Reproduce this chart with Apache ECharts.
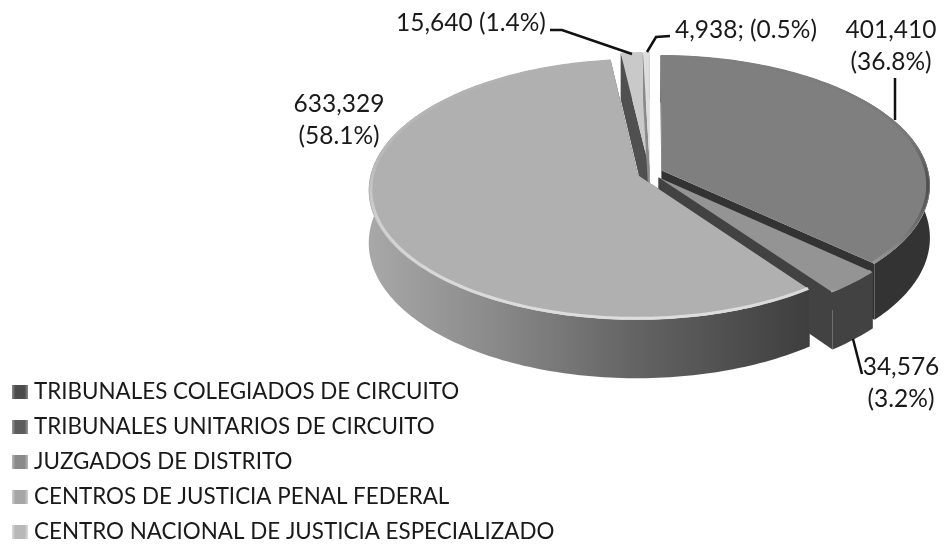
<!DOCTYPE html>
<html>
<head>
<meta charset="utf-8">
<style>
html, body { margin: 0; padding: 0; background: #fff; }
#chart { width: 946px; height: 544px; }
</style>
<script src="https://cdn.jsdelivr.net/npm/echarts@6/dist/echarts.min.js"></script>
</head>
<body>
<div id="chart"></div>
<script>
// datos
const categories = [
    'TRIBUNALES COLEGIADOS DE CIRCUITO',
    'TRIBUNALES UNITARIOS DE CIRCUITO',
    'JUZGADOS DE DISTRITO',
    'CENTROS DE JUSTICIA PENAL FEDERAL',
    'CENTRO NACIONAL DE JUSTICIA ESPECIALIZADO'
];
const values = [401410, 34576, 633329, 15640, 4938];
const valueLabels = ['401,410\n(36.8%)', '34,576\n(3.2%)', '633,329\n(58.1%)', '15,640 (1.4%)', '4,938; (0.5%)'];

// colores
const topColors = ['#7f7f7f', '#949494', '#b0b0b0', '#c9c9c9', '#dddddd'];
const wallColors = ['#333333', '#424242', '#4a4a4a', '#505050', '#8a8a8a'];
const edgeStops = [
    [[0, '#7f7f7f'], [0.4, '#787878'], [0.62, '#4c4c4c'], [0.8, '#6c6c6c'], [1, '#9a9a9a']],
    [[0, '#949494'], [0.8, '#949494'], [1, '#b4b4b4']],
    [[0, '#b0b0b0'], [0.4, '#bababa'], [0.6, '#d0d0d0'], [1, '#dedede']],
    [[0, '#c9c9c9'], [1, '#c9c9c9']],
    [[0, '#dddddd'], [1, '#dddddd']]
];
const legendStops = [
    [[0, '#8a8a8a'], [0.22, '#4c4c4c'], [0.78, '#4c4c4c'], [1, '#8a8a8a']],
    [[0, '#9a9a9a'], [0.22, '#5c5c5c'], [0.78, '#5c5c5c'], [1, '#9a9a9a']],
    [[0, '#b8b8b8'], [0.22, '#8a8a8a'], [0.78, '#8a8a8a'], [1, '#b8b8b8']],
    [[0, '#d0d0d0'], [0.22, '#a6a6a6'], [0.78, '#a6a6a6'], [1, '#d0d0d0']],
    [[0, '#dcdcdc'], [0.22, '#b8b8b8'], [0.78, '#b8b8b8'], [1, '#dcdcdc']]
];
const drawOrder = [2, 3, 4, 0, 1]; // z por rebanada, de atras hacia adelante

// proyeccion del pastel
const cx = 650, cy = 173, R = 267, A = 128, persp = 0.11, depth = 52, explode = 0.048;

const total = values.reduce((a, b) => a + b, 0);
let acc = 0;
const slices = values.map(v => {
    let s = { start: acc / total * Math.PI * 2 };
    acc += v;
    s.end = acc / total * Math.PI * 2;
    s.mid = (s.start + s.end) / 2;
    return s;
});

function project(u, v, h) {
    let w = 1 / (1 - persp * v);
    return [cx + R * u * w, cy + A * v * w + depth * h * w];
}

function arcPoints(s, r, h, a0, a1) {
    let ox = Math.sin(s.mid) * explode, oy = -Math.cos(s.mid) * explode;
    let n = Math.max(2, Math.ceil((a1 - a0) / 0.02));
    let pts = [];
    for (let i = 0; i <= n; i++) {
        let a = a0 + (a1 - a0) * i / n;
        pts.push(project(ox + Math.sin(a) * r, oy - Math.cos(a) * r, h));
    }
    return pts;
}

function apex(s, h) {
    return project(Math.sin(s.mid) * explode, -Math.cos(s.mid) * explode, h);
}

function poly(points, fill) {
    return { type: 'polygon', shape: { points: points }, style: { fill: fill, stroke: null } };
}

function grad(stops, horizontal) {
    return {
        type: 'linear', x: 0, y: 0, x2: horizontal ? 1 : 0, y2: horizontal ? 0 : 1,
        colorStops: stops.map(s => ({ offset: s[0], color: s[1] }))
    };
}

function makeRender(i) {
    return function() {
        let s = slices[i];
        let topArc = arcPoints(s, 1, 0, s.start, s.end);
        let botArc = arcPoints(s, 1, 1, s.start, s.end);
        let a0 = apex(s, 0), a1 = apex(s, 1);
        let wall = wallColors[i];
        let outerFill = wall;
        if (i === 2) {
            outerFill = grad([[0, '#a8a8a8'], [0.3, '#888888'], [0.6, '#646464'], [1, '#3e3e3e']], true);
        }
        let kids = [];
        // paredes radiales
        kids.push(poly([a0, topArc[0], botArc[0], a1], wall));
        kids.push(poly([a0, topArc[topArc.length - 1], botArc[botArc.length - 1], a1], wall));
        // pared exterior
        kids.push(poly(topArc.concat(botArc.slice().reverse()), outerFill));
        // cara superior
        kids.push(poly([a0].concat(topArc), topColors[i]));
        // bisel
        kids.push({
            type: 'polyline',
            shape: { points: arcPoints(s, 0.992, 0, s.start, s.end) },
            style: { fill: null, lineWidth: 3, stroke: grad(edgeStops[i], false) }
        });
        return { type: 'group', children: kids };
    };
}

const labelSpots = [
    { x: 891, y: 46 },
    { x: 901, y: 383 },
    { x: 339, y: 120 },
    { x: 471, y: 23 },
    { x: 746, y: 30 }
];
const leaderLines = [
    [[895, 78], [895, 120]],
    [[853, 339], [862, 374]],
    null,
    [[550, 30], [562, 30], [632, 54]],
    [[670, 36], [656, 37], [647, 52]]
];

let graphics = [];
valueLabels.forEach((t, i) => {
    graphics.push({
        type: 'text', x: labelSpots[i].x, y: labelSpots[i].y, z: 20,
        style: {
            text: t, fill: '#1a1a1a', font: '24.5px Lato', align: 'center',
            verticalAlign: 'middle', lineHeight: 32
        }
    });
    if (leaderLines[i]) {
        graphics.push({
            type: 'polyline', z: 20, shape: { points: leaderLines[i] },
            style: { stroke: '#111', lineWidth: 2.5, fill: null }
        });
    }
});

let chart = echarts.init(document.getElementById('chart'));
chart.setOption({
    animation: false,
    backgroundColor: '#fff',
    legend: {
        orient: 'vertical',
        left: 7,
        top: 376,
        height: 220,
        icon: 'rect',
        itemWidth: 16,
        itemHeight: 14,
        itemGap: 13,
        selectedMode: false,
        data: categories,
        textStyle: { fontFamily: 'Lato', fontSize: 22.4, lineHeight: 22, color: '#1a1a1a', padding: [0, 0, 0, 1] }
    },
    graphic: graphics,
    series: categories.map((name, i) => ({
        type: 'custom',
        name: name,
        coordinateSystem: 'none',
        silent: true,
        z: drawOrder[i] + 2,
        itemStyle: { color: grad(legendStops[i], true) },
        renderItem: makeRender(i),
        data: [[values[i]]]
    }))
});
</script>
</body>
</html>
